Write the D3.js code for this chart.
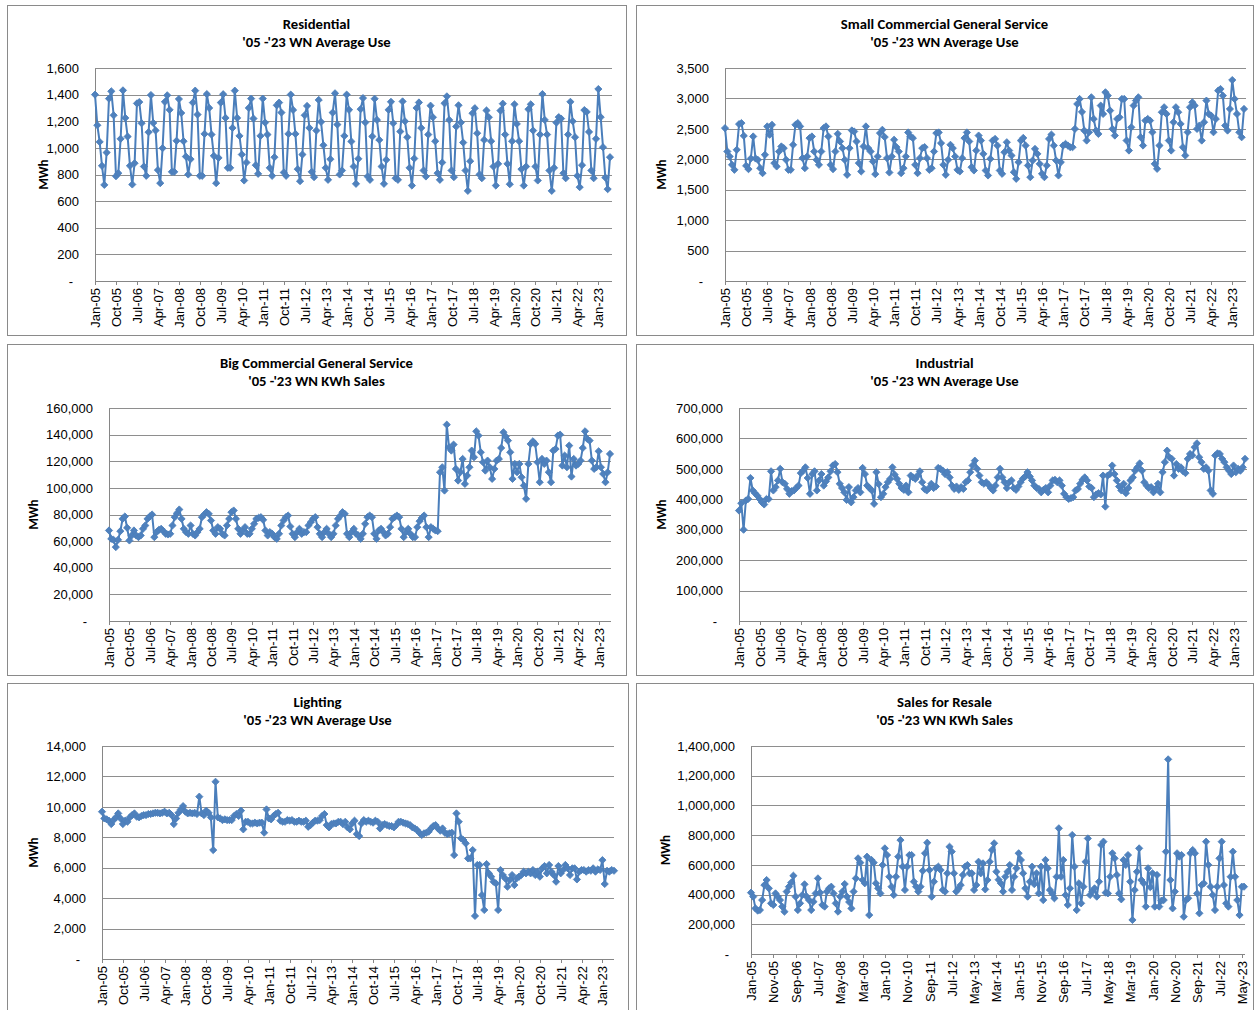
<!DOCTYPE html>
<html>
<head>
<meta charset="utf-8">
<script src="https://cdn.jsdelivr.net/npm/d3@7"></script>
<style>
  body { margin: 0; background: #fff; }
  svg { display: block; font-family: Carlito, Calibri, Lato, "Liberation Sans", sans-serif; }
  .title { font-size: 14.7px; font-weight: bold; fill: #000; }
  .unit { font-size: 13px; font-weight: bold; fill: #000; }
  .tick text { font-size: 13px; fill: #000; }
  .grid line { stroke: #8e8e8e; shape-rendering: crispEdges; }
  .grid path { display: none; }
  .axis path, .axis line { stroke: #868686; shape-rendering: crispEdges; }
</style>
</head>
<body>
<div id="vis"></div>
<script>
// monthly values, Jan-05 .. Jun-23 (one row per year)
var residential = [
  1400,1170,1045,865,722,965,1370,1425,1245,787,810,1068,
  1432,1225,1085,865,725,885,1334,1344,1185,860,790,1118,
  1397,1187,1131,833,735,998,1346,1395,1286,820,820,1053,
  1367,1262,1050,935,800,915,1340,1430,1250,790,790,1105,
  1404,1300,1100,940,735,925,1340,1403,1225,850,850,1150,
  1430,1225,1090,950,755,890,1300,1370,1220,870,805,1090,
  1370,1190,1100,850,790,930,1320,1340,1265,815,790,1105,
  1400,1285,1105,840,750,950,1245,1315,1150,820,780,1130,
  1360,1195,1020,850,760,915,1265,1410,1175,800,830,1090,
  1400,1286,1048,860,730,918,1291,1374,1191,785,760,1086,
  1369,1210,1060,860,730,910,1286,1346,1185,772,760,1123,
  1349,1200,1080,850,717,920,1300,1341,1150,830,785,1100,
  1317,1230,1050,810,760,890,1335,1387,1210,830,780,1160,
  1320,1190,1040,830,677,900,1260,1298,1110,800,772,1060,
  1281,1230,1050,860,717,880,1280,1332,1100,880,727,1050,
  1327,1180,1050,840,717,860,1290,1327,1130,860,755,1100,
  1404,1210,1100,830,677,850,1190,1231,1220,810,772,1100,
  1346,1200,1080,790,705,870,1284,1270,1120,830,772,1068,
  1442,1231,1005,777,690,930
];

var smallComm = [
  2512,2128,2046,1909,1827,2156,2578,2595,2386,1893,1838,2013,
  2375,2013,1991,1854,1772,2074,2540,2403,2567,1937,1882,2128,
  2211,2183,1991,1827,1827,2238,2567,2595,2540,2019,1854,2046,
  2348,2375,2128,1991,1909,2128,2512,2540,2375,1909,1838,2128,
  2419,2293,2183,1991,1745,2183,2474,2457,2293,1937,1800,2211,
  2540,2183,2128,1964,1756,2046,2430,2485,2365,2019,1783,2046,
  2321,2200,2128,1772,1854,2046,2441,2375,2348,1909,1772,2019,
  2183,2200,2019,1827,1854,2128,2430,2441,2265,1909,1745,1991,
  2238,2183,2046,1827,1800,2019,2348,2441,2293,1870,1816,2144,
  2390,2308,2089,1816,1734,2007,2308,2335,2226,1816,1761,2116,
  2280,2144,2062,1788,1679,1952,2308,2351,2226,1898,1706,1980,
  2171,2089,1925,1761,1706,1898,2335,2406,2226,1980,1734,1952,
  2226,2253,2226,2198,2198,2499,2909,2991,2778,2472,2308,2444,
  3019,2663,2472,2417,2882,2745,3101,3046,2800,2499,2390,2663,
  2690,2991,2991,2308,2144,2526,2882,2964,3019,2362,2226,2636,
  2663,2636,2444,1925,1843,2226,2773,2855,2745,2308,2144,2609,
  2855,2773,2581,2198,2062,2444,2855,2937,2882,2499,2554,2308,
  2609,2964,2745,2718,2444,2663,3128,3155,3046,2554,2472,2827,
  3302,2991,2745,2444,2362,2827
];

var bigComm = [
  68000,61750,61000,55500,61000,67500,76750,78500,70000,60500,64250,68000,
  64250,63000,64250,69250,71750,76750,78500,80000,63000,66750,68500,69250,
  67500,65500,65000,65500,71750,78000,81000,83750,76750,69250,66750,65500,
  71750,65500,64250,66750,69250,78000,80000,81750,80500,75500,68000,65500,
  70500,69250,65500,64250,71750,76750,81750,83000,76750,69250,65500,68000,
  70500,65500,65500,69250,73000,76750,77500,78000,76000,68000,64250,66750,
  65500,63000,61750,65500,71750,75500,78000,79250,71000,65500,63000,66750,
  69250,65500,66750,66750,71750,74250,76750,78000,70500,65500,63000,66750,
  69250,65500,63000,65500,71750,76750,79000,81750,80500,65500,63000,66750,
  69250,65500,64250,61750,65500,73000,78000,79250,78000,65500,61750,68000,
  69250,66750,64250,65500,70500,76750,78000,79250,78000,69250,63000,66750,
  69250,65500,63000,63000,70500,75000,77500,79250,70500,63000,70500,69250,
  68000,67500,111750,115500,98000,147500,130500,128000,132500,114250,105500,111750,
  121750,103000,109250,115500,128000,123000,142500,139250,126750,119250,113000,120500,
  115500,106750,114250,120500,121750,130000,141750,138500,135500,126750,106750,118000,
  111750,118000,108000,101750,91750,118000,133000,135000,133000,119250,104250,121750,
  118000,120500,111750,104250,128000,129250,139250,140000,116750,124250,115500,131750,
  108500,121750,116750,118000,120500,130000,142500,136750,135500,120500,114250,115500,
  127500,115500,110500,104250,111750,125500
];

var industrial = [
  363000,387000,300000,396000,401000,470000,429000,420000,412000,401000,390000,383000,
  401000,401000,492000,429000,440000,462000,500000,456000,451000,434000,418000,427000,
  429000,437000,445000,486000,494000,505000,470000,418000,483000,492000,429000,462000,
  483000,445000,459000,472000,492000,511000,516000,489000,451000,437000,423000,398000,
  440000,390000,407000,429000,437000,423000,503000,483000,445000,437000,429000,385000,
  489000,450000,407000,418000,440000,456000,467000,505000,481000,467000,451000,437000,
  431000,445000,423000,478000,472000,467000,478000,492000,456000,434000,429000,437000,
  451000,437000,442000,503000,500000,494000,483000,489000,472000,445000,434000,442000,
  431000,440000,434000,456000,462000,489000,511000,527000,500000,478000,456000,451000,
  456000,448000,437000,429000,445000,472000,500000,472000,456000,437000,456000,462000,
  437000,431000,442000,456000,468000,475000,489000,475000,462000,445000,437000,434000,
  423000,431000,437000,423000,445000,462000,464000,456000,462000,445000,418000,407000,
  401000,404000,407000,429000,434000,451000,464000,472000,462000,442000,437000,407000,
  416000,420000,416000,478000,376000,478000,483000,511000,483000,462000,442000,429000,
  451000,420000,437000,462000,472000,494000,505000,518000,494000,456000,445000,437000,
  440000,423000,434000,451000,423000,489000,522000,560000,538000,533000,478000,516000,
  500000,505000,492000,486000,533000,549000,544000,571000,584000,538000,522000,500000,
  505000,494000,429000,418000,544000,551000,549000,533000,522000,505000,494000,483000,
  511000,489000,500000,494000,505000,533000
];

var lighting = [
  9680,9240,9180,9090,8870,9130,9310,9570,9240,8870,9090,9020,
  9310,9460,9570,9350,9310,9400,9460,9460,9530,9530,9570,9610,
  9610,9570,9610,9680,9570,9610,9460,8870,9240,9610,9830,10050,
  9680,9570,9610,9570,9610,9530,10670,9570,9460,9750,9610,9310,
  7160,11650,9310,9240,9130,9180,9130,9130,9130,9400,9530,9400,
  9750,8520,9020,9020,8910,8910,8960,8910,8960,8960,8300,9830,
  9240,9180,9400,9530,9610,9090,9020,9020,9130,9090,9130,9020,
  9020,9090,9020,9020,9090,8690,8800,8960,9090,9090,9130,9400,
  9530,8800,8650,8870,8910,8910,9020,9020,8870,9020,8650,8520,
  8910,9090,8210,8080,8910,9130,9020,9090,9020,8960,9090,9020,
  8580,8800,8870,8800,8740,8740,8650,8800,9020,9020,8960,8910,
  8870,8800,8650,8580,8480,8300,8150,8260,8300,8370,8580,8740,
  8800,8580,8430,8580,8300,8210,8260,8300,6830,9570,9020,7930,
  7820,7600,6610,6610,7160,2830,6180,6180,4200,3220,6240,5630,
  5410,5080,4970,3220,5850,5520,5300,4750,5190,5520,4860,5300,
  5410,5520,5740,5630,5740,5630,5850,5520,5740,5410,5960,6110,
  5630,6180,5740,5520,5080,6110,5630,5850,6180,5960,5520,5960,
  5960,5230,5740,5850,5850,5740,5850,5800,5960,5740,5890,5850,
  6500,4930,5800,5740,5850,5800
];

var resale = [
  413000,386000,307000,292000,296000,363000,464000,498000,442000,341000,330000,408000,
  386000,363000,319000,285000,420000,453000,480000,527000,386000,296000,341000,397000,
  469000,386000,363000,296000,352000,408000,509000,413000,330000,319000,420000,442000,
  453000,408000,341000,285000,386000,420000,471000,386000,350000,307000,420000,509000,
  644000,615000,498000,476000,655000,262000,633000,615000,476000,442000,408000,599000,
  711000,666000,520000,453000,397000,520000,655000,767000,588000,431000,588000,666000,
  666000,487000,453000,420000,453000,560000,678000,749000,565000,386000,487000,577000,
  588000,565000,431000,420000,543000,722000,689000,543000,420000,440000,464000,532000,
  588000,599000,543000,543000,431000,464000,621000,543000,610000,435000,498000,621000,
  700000,745000,554000,500000,476000,420000,520000,554000,599000,431000,520000,577000,
  678000,633000,543000,442000,386000,487000,588000,470000,543000,408000,588000,363000,
  633000,577000,431000,408000,375000,520000,846000,520000,633000,397000,330000,442000,
  801000,588000,296000,476000,341000,453000,621000,778000,397000,420000,442000,386000,
  487000,734000,756000,413000,408000,520000,678000,644000,532000,408000,368000,633000,
  599000,666000,487000,229000,431000,554000,711000,498000,476000,319000,577000,450000,
  543000,319000,532000,319000,359000,363000,689000,1310000,498000,307000,420000,678000,
  655000,666000,251000,363000,375000,678000,700000,678000,408000,274000,464000,476000,
  756000,600000,453000,397000,296000,453000,644000,756000,464000,341000,319000,520000,
  689000,520000,363000,262000,453000,453000
];

// axis labels
var ticksNine = ["Jan-05","Oct-05","Jul-06","Apr-07","Jan-08","Oct-08","Jul-09","Apr-10","Jan-11",
  "Oct-11","Jul-12","Apr-13","Jan-14","Oct-14","Jul-15","Apr-16","Jan-17","Oct-17","Jul-18",
  "Apr-19","Jan-20","Oct-20","Jul-21","Apr-22","Jan-23"];
var ticksTen = ["Jan-05","Nov-05","Sep-06","Jul-07","May-08","Mar-09","Jan-10","Nov-10","Sep-11",
  "Jul-12","May-13","Mar-14","Jan-15","Nov-15","Sep-16","Jul-17","May-18","Mar-19","Jan-20",
  "Nov-20","Sep-21","Jul-22","May-23"];

var yTicksRes = [0,200,400,600,800,1000,1200,1400,1600];
var yTicksSmall = [0,500,1000,1500,2000,2500,3000,3500];
var yTicksBig = [0,20000,40000,60000,80000,100000,120000,140000,160000];
var yTicksInd = [0,100000,200000,300000,400000,500000,600000,700000];
var yTicksLight = [0,2000,4000,6000,8000,10000,12000,14000];
var yTicksResale = [0,200000,400000,600000,800000,1000000,1200000,1400000];

// category names for each month
var monthNames = ["Jan","Feb","Mar","Apr","May","Jun","Jul","Aug","Sep","Oct","Nov","Dec"];
var months = residential.map(function(d, i) {
    var yr = 5 + Math.floor(i / 12);
    return monthNames[i % 12] + "-" + (yr < 10 ? "0" + yr : yr);
});

var blue = "#4a7ebb";

var svg = d3.select("#vis").append("svg")
    .attr("width", 1260)
    .attr("height", 1010);

//y labels: comma numbers, zero shown as a dash
var fmt = function(v) { return v === 0 ? "-" : d3.format(",")(v); };

var drawPanel = function(p) {
    var g = svg.append("g");

    // frame of the chart
    g.append("rect")
        .attr("x", p.box[0] + 0.5)
        .attr("y", p.box[1] + 0.5)
        .attr("width", p.box[2])
        .attr("height", p.box[3])
        .attr("fill", "#fff")
        .attr("stroke", "#8a8a8a");

    var cx = p.box[0] + p.box[2] / 2;
    g.append("text").attr("class", "title")
        .attr("x", cx).attr("y", p.box[1] + 24)
        .attr("text-anchor", "middle").text(p.title);
    g.append("text").attr("class", "title")
        .attr("x", cx).attr("y", p.box[1] + 42)
        .attr("text-anchor", "middle").text(p.sub);

    var x = d3.scalePoint().domain(months).range([p.left, p.right]);
    var y = d3.scaleLinear().domain([0, p.yTicks[p.yTicks.length - 1]]).range([p.bottom, p.top]);

    // gridlines
    g.append("g").attr("class", "grid")
        .attr("transform", "translate(" + p.left + ",0)")
        .call(d3.axisLeft(y).tickValues(p.yTicks).tickSize(-(p.gridRight - p.left)).tickFormat(""));

    var yAxis = g.append("g").attr("class", "axis")
        .attr("transform", "translate(" + p.left + ",0)")
        .call(d3.axisLeft(y).tickValues(p.yTicks).tickSize(0).tickSizeOuter(0).tickPadding(16).tickFormat(fmt));
    yAxis.selectAll(".tick text").filter(function(d) { return d === 0; }).attr("dx", -6);

    var xAxis = g.append("g").attr("class", "axis")
        .attr("transform", "translate(0," + p.bottom + ")")
        .call(d3.axisBottom(x).tickValues(p.xTicks).tickSize(4).tickSizeOuter(0));
    xAxis.select(".domain").attr("d", "M" + p.left + ",0H" + p.gridRight);
    xAxis.selectAll(".tick text")
        .attr("transform", "rotate(-90)")
        .attr("text-anchor", "end")
        .attr("x", -7)
        .attr("y", 0)
        .attr("dy", "0.35em");

    g.append("text").attr("class", "unit")
        .attr("transform", "translate(" + p.unitX + "," + ((p.top + p.bottom) / 2) + ") rotate(-90)")
        .attr("text-anchor", "middle")
        .attr("dy", "0.35em")
        .text("MWh");

    var line = d3.line()
        .x(function(d, i) { return x(months[i]); })
        .y(function(d) { return y(d); });

    g.append("path")
        .datum(p.values)
        .attr("d", line)
        .attr("fill", "none")
        .attr("stroke", blue)
        .attr("stroke-width", 2)
        .attr("stroke-linejoin", "round");

    var marker = d3.symbol(d3.symbolSquare, 26);
    g.selectAll("path.pt").data(p.values).enter().append("path")
        .attr("class", "pt")
        .attr("d", marker)
        .attr("transform", function(d, i) {
            return "translate(" + x(months[i]) + "," + y(d) + ") rotate(45)";
        })
        .attr("fill", "#4f81bd")
        .attr("stroke", blue)
        .attr("stroke-width", 0.8);
};

drawPanel({ box: [7, 5, 619, 330], left: 95, right: 610, gridRight: 612, top: 68, bottom: 281,
    title: "Residential", sub: "'05 -'23 WN Average Use", values: residential,
    yTicks: yTicksRes, xTicks: ticksNine, unitX: 43 });
drawPanel({ box: [636, 5, 617, 330], left: 725, right: 1244, gridRight: 1246, top: 68, bottom: 281,
    title: "Small Commercial General Service", sub: "'05 -'23 WN Average Use", values: smallComm,
    yTicks: yTicksSmall, xTicks: ticksNine, unitX: 661 });
drawPanel({ box: [7, 344, 619, 331], left: 109, right: 610, gridRight: 611, top: 408, bottom: 621,
    title: "Big Commercial General Service", sub: "'05 -'23 WN KWh Sales", values: bigComm,
    yTicks: yTicksBig, xTicks: ticksNine, unitX: 33 });
drawPanel({ box: [636, 344, 617, 331], left: 739, right: 1245, gridRight: 1247, top: 408, bottom: 621,
    title: "Industrial", sub: "'05 -'23 WN Average Use", values: industrial,
    yTicks: yTicksInd, xTicks: ticksNine, unitX: 661 });
drawPanel({ box: [7, 683, 621, 330], left: 102, right: 614, gridRight: 614, top: 746, bottom: 959,
    title: "Lighting", sub: "'05 -'23 WN Average Use", values: lighting,
    yTicks: yTicksLight, xTicks: ticksNine, unitX: 33 });
drawPanel({ box: [636, 683, 617, 330], left: 751, right: 1244, gridRight: 1245, top: 746, bottom: 954,
    title: "Sales for Resale", sub: "'05 -'23 WN KWh Sales", values: resale,
    yTicks: yTicksResale, xTicks: ticksTen, unitX: 665 });
</script>
</body>
</html>
